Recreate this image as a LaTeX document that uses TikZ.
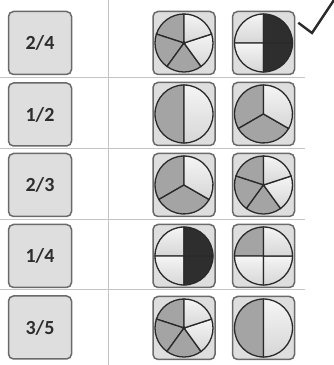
\documentclass[tikz,border=0pt]{standalone}
\usepackage{fontspec}
\setmainfont{Carlito}
\definecolor{boxfill}{HTML}{DEDEDE}
\definecolor{boxline}{HTML}{6A6A6A}
\definecolor{sepline}{HTML}{C4C4C4}
\definecolor{piegray}{HTML}{A4A4A4}
\definecolor{piedark}{HTML}{2E2E2E}
\definecolor{pieline}{HTML}{2A2A2A}
\definecolor{lbltext}{HTML}{2E2E2E}
\begin{document}
\begin{tikzpicture}[x=1pt,y=1pt,
  lblbox/.style={draw=boxline, line width=1.5pt, fill=boxfill, rounded corners=5pt,
    minimum width=63pt, minimum height=63pt, inner sep=0pt,
    font=\fontsize{20}{20}\selectfont\bfseries, text=lbltext},
  piebox/.style={draw=boxline, line width=1.5pt, fill=boxfill, rounded corners=5pt,
    minimum width=62pt, minimum height=63pt, inner sep=0pt},
  sep/.style={draw=sepline, line width=1pt},
  g/.style={fill=piegray},
  l/.style={top color=black!4, bottom color=black!16},
  d/.style={fill=piedark},
  sector/.style={draw=pieline, line width=1.3pt}]
\useasboundingbox (0,0) rectangle (333,365);
\fill[white] (0,0) rectangle (333,365);
% separators
\draw[sep] (108,0) -- (108,365);
\foreach \y in {287,216,145,75} \draw[sep] (0,\y) -- (305,\y);
% label boxes
\node[lblbox] (l1) at (40,322) {2/4};
\node[lblbox] (l2) at (40,250.5) {1/2};
\node[lblbox] (l3) at (40,180) {2/3};
\node[lblbox] (l4) at (40,109) {1/4};
\node[lblbox] (l5) at (40,37.5) {3/5};
% pie boxes
\foreach \r/\y in {1/322,2/251,3/180,4/109,5/37}{
  \node[piebox] (a\r) at (184,\y) {};
  \node[piebox] (b\r) at (263.5,\y) {};
}
\newcommand\piesec[4]{\path[sector,#4] (#1) -- ++(#2:29) arc[start angle=#2,end angle=#3,radius=29] -- cycle;}
% row 1
\piesec{a1.center}{90}{162}{g}\piesec{a1.center}{162}{234}{g}\piesec{a1.center}{234}{306}{g}
\piesec{a1.center}{306}{378}{l}\piesec{a1.center}{378}{450}{l}
\fill[pieline] (a1.center) circle[radius=1.8];
\piesec{b1.center}{90}{180}{l}\piesec{b1.center}{180}{270}{l}\piesec{b1.center}{270}{360}{d}\piesec{b1.center}{0}{90}{d}
% row 2
\piesec{a2.center}{90}{270}{g}\piesec{a2.center}{270}{450}{l}
\piesec{b2.center}{90}{210}{g}\piesec{b2.center}{210}{330}{g}\piesec{b2.center}{330}{450}{l}
% row 3
\piesec{a3.center}{90}{210}{g}\piesec{a3.center}{210}{330}{g}\piesec{a3.center}{330}{450}{l}
\piesec{b3.center}{90}{162}{g}\piesec{b3.center}{162}{234}{g}\piesec{b3.center}{234}{306}{g}
\piesec{b3.center}{306}{378}{l}\piesec{b3.center}{378}{450}{l}
% row 4
\piesec{a4.center}{90}{180}{l}\piesec{a4.center}{180}{270}{l}\piesec{a4.center}{270}{360}{d}\piesec{a4.center}{0}{90}{d}
\piesec{b4.center}{90}{180}{g}\piesec{b4.center}{180}{270}{l}\piesec{b4.center}{270}{360}{l}\piesec{b4.center}{0}{90}{l}
% row 5
\piesec{a5.center}{90}{162}{g}\piesec{a5.center}{162}{234}{g}\piesec{a5.center}{234}{306}{g}
\piesec{a5.center}{306}{378}{l}\piesec{a5.center}{378}{450}{l}
\fill[pieline] (a5.center) circle[radius=1.8];
\piesec{b5.center}{90}{270}{g}\piesec{b5.center}{270}{450}{l}
% check mark
\coordinate (ck1) at ([xshift=3pt,yshift=-12pt]b1.north east);
\coordinate (ck2) at (312,332);
\coordinate (ck3) at (336,368);
\draw[draw=pieline, line width=2.4pt, line join=miter] (ck1) -- (ck2) -- (ck3);
\end{tikzpicture}
\end{document}
